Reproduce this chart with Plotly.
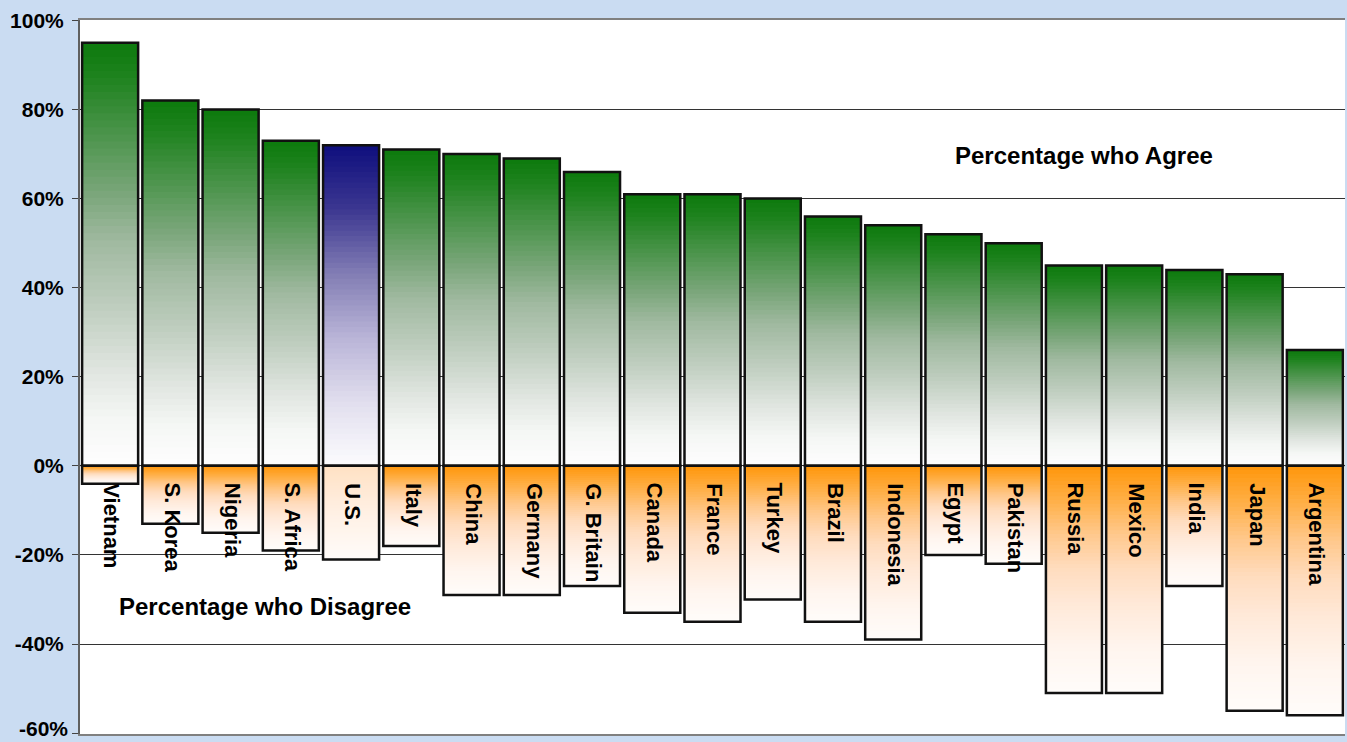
import plotly.graph_objects as go

countries = ["Vietnam", "S. Korea", "Nigeria", "S. Africa", "U.S.", "Italy", "China",
             "Germany", "G. Britain", "Canada", "France", "Turkey", "Brazil", "Indonesia",
             "Egypt", "Pakistan", "Russia", "Mexico", "India", "Japan", "Argentina"]
agree = [95, 82, 80, 73, 72, 71, 70, 69, 66, 61, 61, 60, 56, 54, 52, 50, 45, 45, 44, 43, 26]
disagree = [-4, -13, -15, -19, -21, -18, -29, -29, -27, -33, -35, -30, -35, -39, -20, -22,
            -51, -51, -27, -55, -56]
highlight = "U.S."

tick_vals = [-60, -40, -20, 0, 20, 40, 60, 80, 100]
tick_text = ["-60%", "-40%", "-20%", "0%", "20%", "40%", "60%", "80%", "100%"]

FONT = "Liberation Sans, Arial, sans-serif"
N = 60

# gradient stops: (position from bar base 0 .. bar end 1, rgb)
GREEN_STOPS = [(0.0, (254, 254, 254)), (0.11, (245, 247, 245)), (0.22, (225, 230, 225)),
               (0.38, (190, 205, 190)), (0.53, (160, 185, 160)), (0.65, (120, 165, 120)),
               (0.77, (80, 150, 80)), (0.92, (30, 130, 30)), (1.0, (12, 122, 12))]
BLUE_STOPS = [(0.0, (252, 252, 254)), (0.2, (225, 222, 238)), (0.4, (185, 180, 215)),
              (0.6, (130, 125, 180)), (0.8, (60, 55, 145)), (1.0, (14, 14, 125))]
# orange: position 0 = zero line (orange), 1 = bar end (white)
ORANGE_STOPS = [(0.0, (255, 150, 10)), (0.15, (255, 175, 70)), (0.3, (255, 200, 140)),
                (0.45, (255, 220, 190)), (0.6, (255, 232, 215)), (0.8, (255, 245, 238)),
                (1.0, (255, 252, 250))]
PALE_STOPS = [(0.0, (255, 225, 195)), (0.5, (255, 240, 228)), (1.0, (255, 252, 250))]


def interp(stops, t):
    t = max(0.0, min(1.0, t))
    for (t0, c0), (t1, c1) in zip(stops[:-1], stops[1:]):
        if t <= t1:
            f = (t - t0) / (t1 - t0) if t1 > t0 else 0
            c = [round(c0[i] + (c1[i] - c0[i]) * f) for i in range(3)]
            return f"rgb({c[0]},{c[1]},{c[2]})"
    c = stops[-1][1]
    return f"rgb({c[0]},{c[1]},{c[2]})"


fig = go.Figure()

# positive bars: green (blue for highlight) at top fading to white at zero
for k in range(N):
    frac = (N - k) / N
    t = (N - k - 0.5) / N
    fig.add_trace(go.Bar(
        x=countries, y=[v * frac for v in agree],
        marker=dict(color=[interp(BLUE_STOPS if c == highlight else GREEN_STOPS, t)
                           for c in countries],
                    line=dict(width=0)),
        hoverinfo="skip", showlegend=False))

# negative bars: orange at zero fading to white at the bottom
for k in range(N):
    frac = (N - k) / N
    t = (N - k - 0.5) / N
    fig.add_trace(go.Bar(
        x=countries, y=[v * frac for v in disagree],
        marker=dict(color=[interp(PALE_STOPS if c == highlight else ORANGE_STOPS, t)
                           for c in countries],
                    line=dict(width=0)),
        hoverinfo="skip", showlegend=False))

# outlines
for vals in (agree, disagree):
    fig.add_trace(go.Bar(
        x=countries, y=vals,
        marker=dict(color="rgba(0,0,0,0)", line=dict(color="#111", width=2.5)),
        hoverinfo="skip", showlegend=False))

annotations = []
for c in countries:
    annotations.append(dict(
        x=c, y=0, xref="x", yref="y", text=c, showarrow=False, textangle=90,
        xanchor="center", yanchor="top", yshift=-15, xshift=2,
        font=dict(family=FONT, size=22, color="black", weight="bold")))

annotations.append(dict(
    x=0.794, y=69.7, xref="paper", yref="y", text="<b>Percentage who Agree</b>",
    xanchor="center", yanchor="middle",
    showarrow=False, font=dict(family=FONT, size=24, color="black")))
annotations.append(dict(
    x=0.146, y=-31.6, xref="paper", yref="y", text="<b>Percentage who Disagree</b>",
    xanchor="center", yanchor="middle",
    showarrow=False, font=dict(family=FONT, size=24, color="black")))

# bottom tick label drawn as annotation so it is not cut at the page edge
annotations.append(dict(
    x=0, y=tick_vals[0], xref="paper", yref="y", text=tick_text[0],
    xanchor="right", yanchor="bottom", xshift=-10, yshift=-9, showarrow=False,
    font=dict(family=FONT, size=21, color="black", weight="bold")))

fig.update_layout(
    width=1347, height=742,
    margin=dict(l=80, r=2, t=20, b=8, autoexpand=False),
    barmode="overlay", bargap=0.07,
    paper_bgcolor="#cadcf2", plot_bgcolor="white",
    showlegend=False, hovermode=False,
    annotations=annotations,
    xaxis=dict(showticklabels=False, ticks="", showgrid=False, zeroline=False,
               showline=True, linecolor="#808080", linewidth=2, mirror=True,
               automargin=False,
               range=[-0.5, len(countries) - 0.5]),
    yaxis=dict(range=[-60.2, 100.1], tickvals=tick_vals,
               ticktext=[""] + tick_text[1:],
               ticks="outside", ticklen=6, tickcolor="#444", tickwidth=1,
               ticklabelstandoff=4, automargin=False,
               showline=True, linecolor="#606060", linewidth=2,
               showgrid=True, gridcolor="#333", gridwidth=1, zeroline=False,
               tickfont=dict(family=FONT, size=21, color="black", weight="bold")),
)

fig.write_html("out.html")
